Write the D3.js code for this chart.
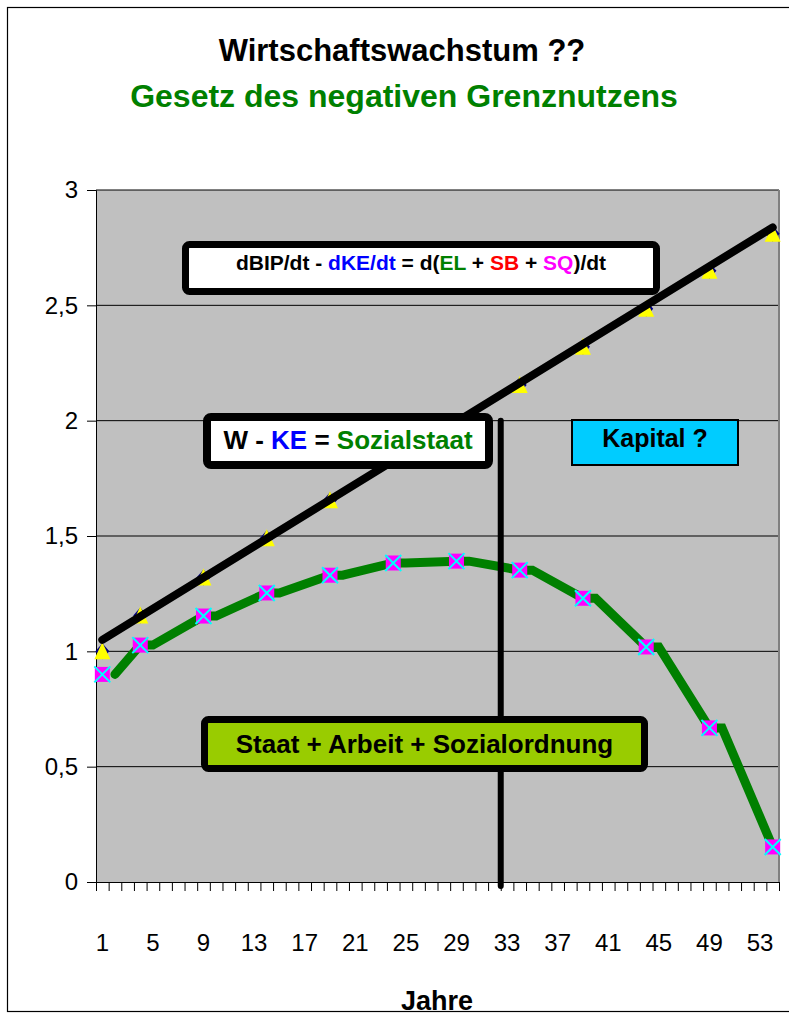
<!DOCTYPE html>
<html>
<head>
<meta charset="utf-8">
<script src="https://cdn.jsdelivr.net/npm/d3@7"></script>
<style>
  body { margin: 0; background: #fff; }
  svg text { font-family: "Liberation Sans", Arial, sans-serif; }
</style>
</head>
<body>
<svg id="chart" width="789" height="1016"></svg>
<script>
// categories on the x axis (years 1..54) and the labelled ones
const categories = d3.range(1, 55)
const xTickLabels = [1, 5, 9, 13, 17, 21, 25, 29, 33, 37, 41, 45, 49, 53]
const yTicks = [0, 0.5, 1, 1.5, 2, 2.5, 3]
const yTickLabels = ['0', '0,5', '1', '1,5', '2', '2,5', '3']

// marker series (every ~5 years)
const markerCats = [1, 4, 9, 14, 19, 24, 29, 34, 39, 44, 49, 54]
const bipValues = [1.0, 1.155, 1.32, 1.49, 1.655, 1.835, 1.99, 2.155, 2.32, 2.485, 2.65, 2.81]
const sozialValues = [0.90, 1.027, 1.153, 1.253, 1.33, 1.383, 1.391, 1.352, 1.23, 1.019, 0.668, 0.152]

// thick green line (stepped, one year behind the markers)
const greenCats = [2, 4, 5, 9, 10, 14, 15, 19, 20, 24, 25, 29, 30, 34, 35, 39, 40, 44, 45, 49, 50, 54]
const greenValues = [0.90, 1.027, 1.027, 1.153, 1.153, 1.253, 1.253, 1.33, 1.33, 1.383, 1.383,
  1.391, 1.391, 1.352, 1.352, 1.23, 1.23, 1.019, 1.019, 0.668, 0.668, 0.152]

// thick black trend line
const trendCats = [1, 54]
const trendValues = [1.05, 2.838]

// vertical divider after year 32
const dividerCat = 33
const dividerTop = 2.0

const svg = d3.select('#chart')
const plot = { left: 96, right: 779, top: 190, bottom: 882 }

svg.append('rect')
  .attr('width', 789).attr('height', 1016).attr('fill', '#fff')
svg.append('rect')
  .attr('x', 7.5).attr('y', 7.5).attr('width', 820).attr('height', 1004)
  .attr('fill', 'none').attr('stroke', '#000').attr('stroke-width', 1.2)

// titles
svg.append('text')
  .attr('x', 402).attr('y', 61)
  .attr('text-anchor', 'middle')
  .attr('font-size', 31).attr('font-weight', 'bold')
  .text('Wirtschaftswachstum ??')
svg.append('text')
  .attr('x', 404).attr('y', 107)
  .attr('text-anchor', 'middle')
  .attr('font-size', 32).attr('font-weight', 'bold')
  .attr('fill', '#008000')
  .text('Gesetz des negativen Grenznutzens')

const x = d3.scaleBand(categories, [plot.left, plot.right])
const xEdge = d3.scaleLinear([0, categories.length], [plot.left, plot.right])
const y = d3.scaleLinear([0, 3], [plot.bottom, plot.top])
const xc = c => x(c) + x.bandwidth() / 2

// plot background
svg.append('rect')
  .attr('x', plot.left).attr('y', plot.top)
  .attr('width', plot.right - plot.left).attr('height', plot.bottom - plot.top)
  .attr('fill', '#c0c0c0')

// gridlines
svg.append('g')
  .selectAll('line')
  .data(yTicks.slice(1))
  .join('line')
  .attr('x1', plot.left).attr('x2', plot.right)
  .attr('y1', d => y(d)).attr('y2', d => y(d))
  .attr('stroke', '#000').attr('stroke-width', 1)

svg.append('line')
  .attr('x1', plot.right).attr('x2', plot.right)
  .attr('y1', plot.top).attr('y2', plot.bottom)
  .attr('stroke', '#808080').attr('stroke-width', 2)

// y axis
const yAxis = svg.append('g')
  .attr('transform', `translate(${plot.left},0)`)
  .call(d3.axisLeft(y).tickValues(yTicks).tickFormat((d, i) => yTickLabels[i]).tickSize(9).tickPadding(9))
yAxis.selectAll('text').attr('font-size', 24).attr('fill', '#000')
  .style('font-family', '"Liberation Sans", Arial, sans-serif')
yAxis.selectAll('line, path').attr('stroke', '#000')

// x axis: ticks on category edges, labels every 4th year
const xAxis = svg.append('g')
  .attr('transform', `translate(0,${plot.bottom})`)
  .call(d3.axisBottom(xEdge).tickValues(d3.range(0, categories.length + 1)).tickFormat('').tickSize(9).tickSizeOuter(0))
xAxis.selectAll('line, path').attr('stroke', '#000')

const xLabels = svg.append('g')
  .attr('transform', `translate(0,${plot.bottom})`)
  .call(d3.axisBottom(x).tickValues(xTickLabels).tickSize(0).tickPadding(52))
xLabels.select('.domain').remove()
xLabels.selectAll('text').attr('font-size', 24).attr('fill', '#000')
  .style('font-family', '"Liberation Sans", Arial, sans-serif')

svg.append('text')
  .attr('x', 437).attr('y', 1010)
  .attr('text-anchor', 'middle')
  .attr('font-size', 27).attr('font-weight', 'bold')
  .text('Jahre')

// green stepped line
const line = d3.line().x(d => xc(d[0])).y(d => y(d[1]))
svg.append('path')
  .datum(greenCats.map((c, i) => [c, greenValues[i]]))
  .attr('d', line)
  .attr('fill', 'none').attr('stroke', '#008000').attr('stroke-width', 9)
  .attr('stroke-linecap', 'round').attr('stroke-linejoin', 'miter')

// BIP markers: navy diamond under yellow triangle
const bipPts = markerCats.map((c, i) => [xc(c), y(bipValues[i])])
svg.append('g').selectAll('path')
  .data(bipPts)
  .join('path')
  .attr('d', d => `M${d[0]},${d[1] - 8}L${d[0] + 7},${d[1]}L${d[0]},${d[1] + 8}L${d[0] - 7},${d[1]}Z`)
  .attr('fill', '#000080')
svg.append('g').selectAll('path')
  .data(bipPts)
  .join('path')
  .attr('d', d => `M${d[0]},${d[1] - 9}L${d[0] + 8},${d[1] + 8}L${d[0] - 8},${d[1] + 8}Z`)
  .attr('fill', '#ffff00')

// Sozial markers: magenta square with cyan x
const sozPts = markerCats.map((c, i) => [xc(c), y(sozialValues[i])])
const soz = svg.append('g').selectAll('g')
  .data(sozPts)
  .join('g')
  .attr('transform', d => `translate(${d[0]},${d[1]})`)
soz.append('rect')
  .attr('x', -7.5).attr('y', -7.5).attr('width', 15).attr('height', 15)
  .attr('fill', '#ff00ff')
soz.append('path')
  .attr('d', 'M-8,-8L8,8M8,-8L-8,8')
  .attr('stroke', '#00ffff').attr('stroke-width', 2)

// black trend line on top
svg.append('path')
  .datum(trendCats.map((c, i) => [c, trendValues[i]]))
  .attr('d', line)
  .attr('fill', 'none').attr('stroke', '#000').attr('stroke-width', 8)
  .attr('stroke-linecap', 'round')

// vertical divider
svg.append('line')
  .attr('x1', x(dividerCat)).attr('x2', x(dividerCat))
  .attr('y1', y(dividerTop)).attr('y2', plot.bottom + 4)
  .attr('stroke', '#000').attr('stroke-width', 6).attr('stroke-linecap', 'round')

// text boxes
function textBox(box) {
  const g = svg.append('g')
  g.append('rect')
    .attr('x', box.x).attr('y', box.y).attr('width', box.w).attr('height', box.h)
    .attr('rx', box.rx || 0)
    .attr('fill', box.fill).attr('stroke', '#000').attr('stroke-width', box.sw)
  const t = g.append('text')
    .attr('x', box.x + box.w / 2).attr('y', box.baseline)
    .attr('text-anchor', 'middle')
    .attr('font-size', box.size).attr('font-weight', 'bold')
  box.parts.forEach(([s, c]) => t.append('tspan').attr('fill', c).text(s))
}

textBox({
  x: 185.5, y: 244.5, w: 471, h: 47, rx: 4, sw: 7, fill: '#fff', size: 21, baseline: 270,
  parts: [['dBIP/dt - ', '#000'], ['dKE/dt', '#0000ff'], [' = d(', '#000'], ['EL', '#008000'],
    [' + ', '#000'], ['SB', '#ff0000'], [' + ', '#000'], ['SQ', '#ff00ff'], [')/dt', '#000']]
})
textBox({
  x: 207, y: 417, w: 282, h: 48, rx: 4, sw: 8, fill: '#fff', size: 26, baseline: 449,
  parts: [['W - ', '#000'], ['KE', '#0000ff'], [' = ', '#000'], ['Sozialstaat', '#008000']]
})
textBox({
  x: 572, y: 420, w: 166, h: 45, sw: 2, fill: '#00ccff', size: 25, baseline: 447,
  parts: [['Kapital ?', '#000']]
})
textBox({
  x: 204.5, y: 719.5, w: 440, h: 49, rx: 4, sw: 7, fill: '#99cc00', size: 26, baseline: 753,
  parts: [['Staat + Arbeit + Sozialordnung', '#000']]
})
</script>
</body>
</html>
